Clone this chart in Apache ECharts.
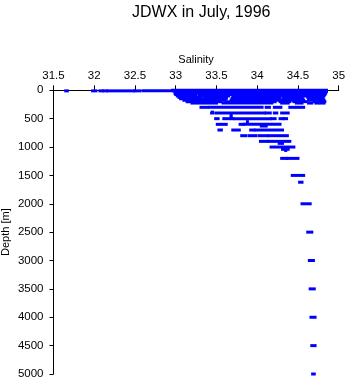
<!DOCTYPE html>
<html><head><meta charset="utf-8">
<script src="https://cdn.jsdelivr.net/npm/echarts@6/dist/echarts.min.js"></script>
<style>html,body{margin:0;padding:0;background:#fff}#c{width:348px;height:384px}</style>
</head><body><div id="c"></div>
<script>
// Salinity tick labels and depth tick labels (axis range)
const salTicks = [31.5, 32, 32.5, 33, 33.5, 34, 34.5, 35];
const depthTicks = [0, 500, 1000, 1500, 2000, 2500, 3000, 3500, 4000, 4500, 5000];

// Observations: clusters of CTD samples at each depth, given as salinity start/end of each cluster
const runDepth = [
  10,10,10,10,10,10,10,
  0,10,20,30,50,
  75,75,
  100,100,100,
  125,125,125,125,125,
  150,150,150,150,150,
  175,175,175,175,175,
  200,200,200,200,200,200,
  225,225,225,225,225,225,225,
  300,300,300,300,300,300,
  385,400,400,400,400,400,
  440,470,500,500,500,500,500,500,500,
  553,600,600,600,630,
  700,700,700,700,
  800,800,800,800,
  900,900,935,
  1000,1040,1060,
  1200,1200,
  1500,1620,2000,2500,3000,3500,4000,4500,5000
];
const runStart = [
  31.65,31.98,32.07,32.12,32.17,32.50,32.60,
  32.96,32.97,33.00,33.00,32.99,
  33.00,33.29,
  33.02,33.32,33.72,
  33.04,33.36,33.70,34.33,34.62,
  33.06,33.69,34.32,34.64,34.77,
  33.10,33.68,34.30,34.63,34.76,
  33.14,33.62,34.28,34.45,34.70,34.78,
  33.20,33.58,34.30,34.48,34.63,34.72,34.78,
  33.31,33.42,34.11,34.21,34.40,34.48,
  33.45,33.44,33.50,34.11,34.21,34.30,
  33.68,33.68,33.49,33.59,33.68,33.72,34.18,34.28,34.33,
  33.88,33.51,33.79,33.84,34.05,
  33.53,33.70,33.92,33.98,
  33.81,33.90,34.02,34.14,
  34.04,34.14,34.27,
  34.17,34.31,34.35,
  34.30,34.37,
  34.43,34.52,34.55,34.62,34.64,34.65,34.66,34.67,34.68
];
const runEnd = [
  31.67,32.02,32.10,32.15,32.48,32.56,33.00,
  34.85,34.85,34.85,34.84,34.84,
  33.25,34.83,
  33.22,33.65,34.82,
  33.30,33.62,34.28,34.55,34.80,
  33.62,34.25,34.56,34.74,34.81,
  33.60,34.27,34.57,34.70,34.82,
  33.55,34.22,34.40,34.60,34.74,34.83,
  33.50,34.18,34.38,34.55,34.67,34.75,34.82,
  33.39,34.06,34.15,34.29,34.45,34.57,
  33.45,33.46,34.09,34.16,34.24,34.38,
  33.68,33.68,33.52,33.66,33.70,34.16,34.22,34.32,34.36,
  33.88,33.62,33.83,34.28,34.11,
  33.56,33.78,33.96,34.31,
  33.86,33.98,34.12,34.37,
  34.12,34.40,34.31,
  34.45,34.38,34.35,
  34.36,34.50,
  34.57,34.55,34.65,34.67,34.69,34.70,34.71,34.71,34.70
];

const data = runDepth.map((d, i) => [runStart[i], runEnd[i], d]);

const chart = echarts.init(document.getElementById('c'), null, {renderer: 'canvas'});
const font = "'Liberation Sans', Arial, Helvetica, sans-serif";
chart.setOption({
  animation: false,
  backgroundColor: '#fff',
  title: {
    text: 'JDWX in July, 1996',
    left: 127, top: 0,
    textStyle: {fontFamily: font, fontSize: 16, fontWeight: 'normal', color: '#000'}
  },
  grid: {left: 53.5, right: 9.3, top: 90.3, bottom: 10, containLabel: false, outerBoundsMode: 'none'},
  xAxis: {
    type: 'value', position: 'top', min: salTicks[0], max: salTicks[salTicks.length - 1], interval: 0.5,
    name: 'Salinity', nameLocation: 'middle', nameGap: 25, nameMoveOverlap: false,
    nameTextStyle: {fontFamily: font, fontSize: 11, color: '#000'},
    axisLine: {show: true, lineStyle: {color: '#000', width: 1}},
    axisTick: {show: true, length: 5, inside: false, lineStyle: {color: '#000'}},
    axisLabel: {fontFamily: font, fontSize: 11.5, color: '#000', margin: 8},
    splitLine: {show: false}
  },
  yAxis: {
    type: 'value', inverse: true, min: depthTicks[0], max: depthTicks[depthTicks.length - 1], interval: 500,
    name: 'Depth [m]', nameLocation: 'middle', nameGap: 42, nameRotate: 90, nameMoveOverlap: false,
    nameTextStyle: {fontFamily: font, fontSize: 11, color: '#000'},
    axisLine: {show: true, lineStyle: {color: '#000', width: 1}},
    axisTick: {show: true, length: 4, inside: false, lineStyle: {color: '#000'}},
    axisLabel: {fontFamily: font, fontSize: 11.5, color: '#000', margin: 10, formatter: v => String(v)},
    splitLine: {show: false}
  },
  series: [{
    type: 'custom',
    clip: false,
    encode: {x: [0, 1], y: 2},
    data: data,
    renderItem: function (params, api) {
      const p0 = api.coord([api.value(0), api.value(2)]);
      const p1 = api.coord([api.value(1), api.value(2)]);
      return {
        type: 'rect',
        shape: {x: p0[0] - 1.5, y: p0[1] - 1.5, width: p1[0] - p0[0] + 3, height: 3},
        style: {fill: '#0000ff'}
      };
    }
  }]
});
</script>
</body></html>
